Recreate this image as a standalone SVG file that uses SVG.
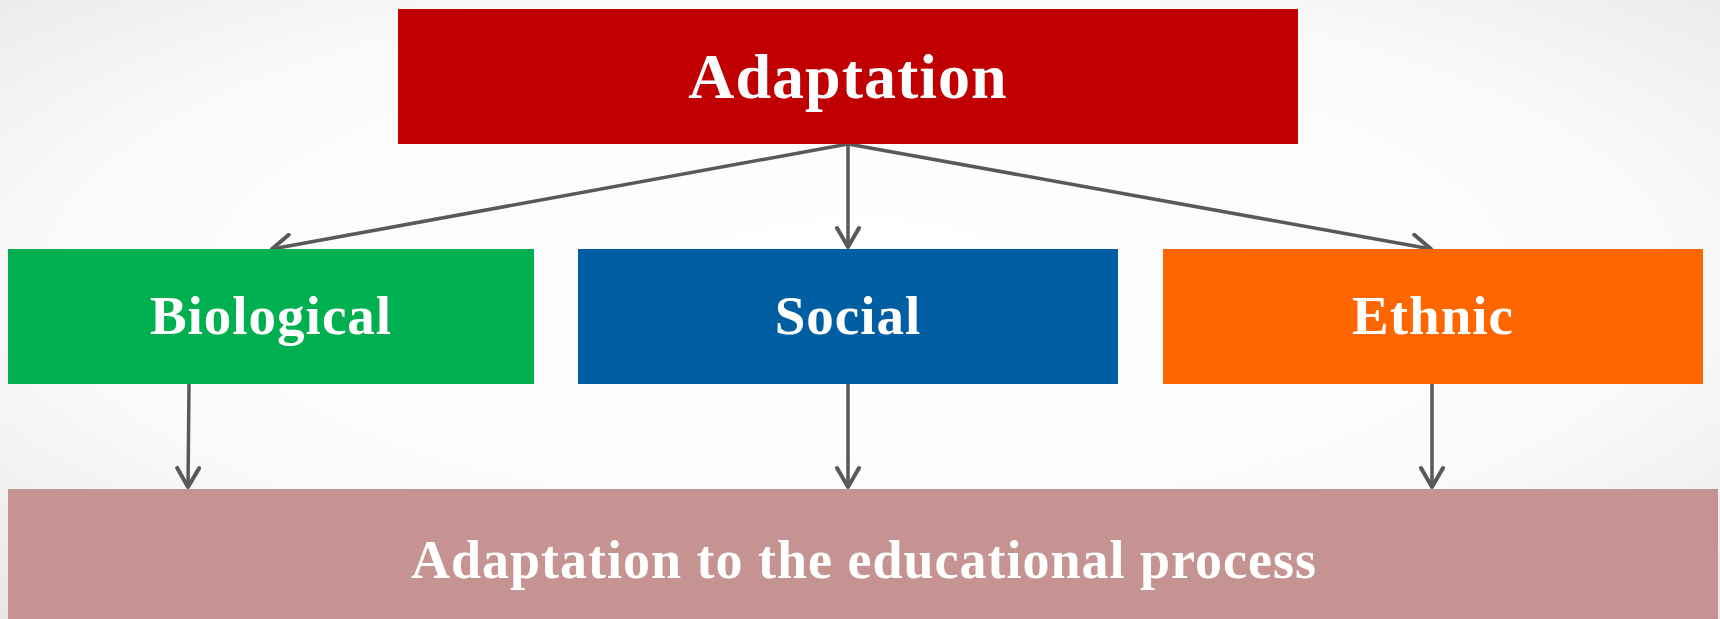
<svg xmlns="http://www.w3.org/2000/svg" width="1720" height="619" viewBox="0 0 1720 619">
<defs>
<radialGradient id="bg" cx="50%" cy="45%" r="75%">
<stop offset="0" stop-color="#ffffff"/>
<stop offset="0.6" stop-color="#fbfbfb"/>
<stop offset="1" stop-color="#e6e6e6"/>
</radialGradient>
<marker id="arr" viewBox="0 0 26 26" refX="23" refY="13" markerWidth="26" markerHeight="26" markerUnits="userSpaceOnUse" orient="auto">
<path d="M4,2 L23,13 L4,24" fill="none" stroke="#595959" stroke-width="4" stroke-linecap="round" stroke-linejoin="round"/>
</marker>
<style>
.lbl{font-family:"Liberation Serif","Times New Roman",serif;font-weight:bold;fill:#ffffff;text-anchor:middle;letter-spacing:1px}
.con{stroke:#595959;stroke-width:3.5;fill:none;marker-end:url(#arr)}
</style>
</defs>
<rect x="0" y="0" width="1720" height="619" fill="url(#bg)"/>
<g id="connectors">
<line class="con" x1="848" y1="144" x2="272" y2="249"/>
<line class="con" x1="848" y1="144" x2="848" y2="247"/>
<line class="con" x1="848" y1="144" x2="1431" y2="249"/>
<line class="con" x1="189" y1="384" x2="188" y2="487"/>
<line class="con" x1="848" y1="384" x2="848" y2="487"/>
<line class="con" x1="1432" y1="384" x2="1432" y2="487"/>
</g>
<g id="adaptation">
<rect x="398" y="9" width="900" height="135" fill="#c00000"/>
<text class="lbl" x="848" y="98" font-size="64">Adaptation</text>
</g>
<g id="biological">
<rect x="8" y="249" width="526" height="135" fill="#00b050"/>
<text class="lbl" x="271" y="334" font-size="55">Biological</text>
</g>
<g id="social">
<rect x="578" y="249" width="540" height="135" fill="#005ea2"/>
<text class="lbl" x="848" y="334" font-size="55">Social</text>
</g>
<g id="ethnic">
<rect x="1163" y="249" width="540" height="135" fill="#ff6600"/>
<text class="lbl" x="1433" y="334" font-size="55">Ethnic</text>
</g>
<g id="educational">
<rect x="8" y="489" width="1710" height="130" fill="#c49392"/>
<text class="lbl" x="864" y="578" font-size="54" letter-spacing="1.4">Adaptation to the educational process</text>
</g>
</svg>
